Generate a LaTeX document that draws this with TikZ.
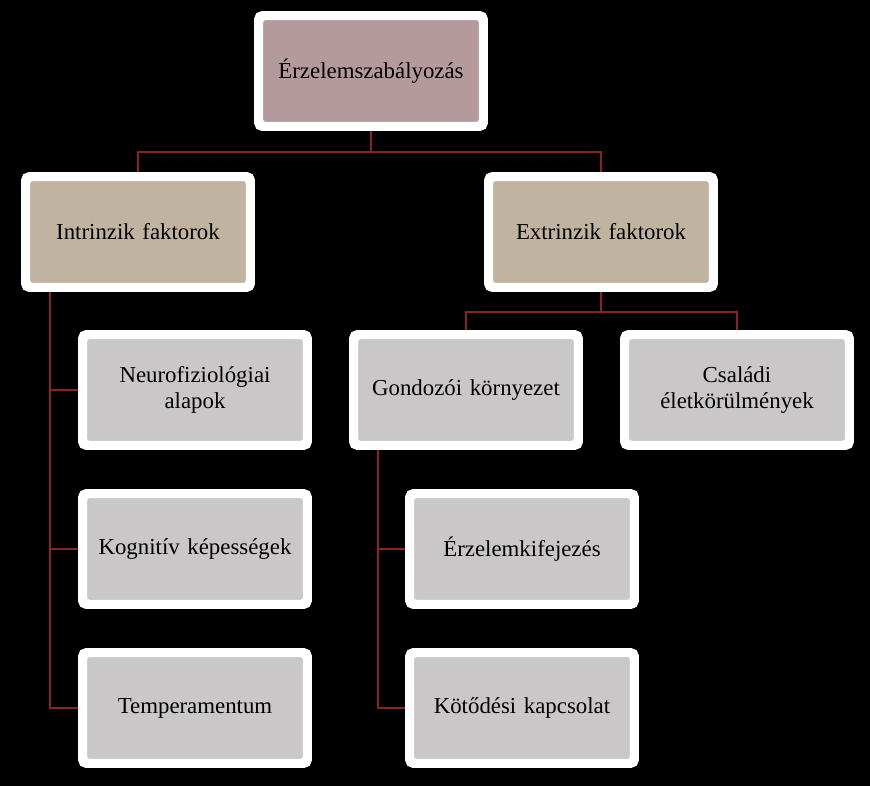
\documentclass[tikz,border=0pt]{standalone}
\usepackage{fontspec}
\setmainfont{Liberation Serif}
\definecolor{linkred}{HTML}{8B2323}
\definecolor{rootfill}{HTML}{B49A9C}
\definecolor{factfill}{HTML}{C0B4A0}
\definecolor{leaffill}{HTML}{C9C7C7}
\tikzset{
  card/.style={draw=white, line width=0.12cm, rounded corners=3pt,
    minimum width=4.44cm, minimum height=2.16cm, align=center,
    text width=4.2cm, font=\fontsize{13}{15}\selectfont},
  link/.style={draw=linkred, line width=1.6pt}
}
\begin{document}
\begin{tikzpicture}[x=0.02cm,y=-0.02cm]
\fill[black] (0,0) rectangle (870,786);

\node[card, fill=rootfill] (root) at (371,71) {Érzelemszabályozás};
\node[card, fill=factfill] (intr) at (138,232) {Intrinzik faktorok};
\node[card, fill=factfill] (extr) at (601,232) {Extrinzik faktorok};

\node[card, fill=leaffill] (neuro) at (195,390) {Neurofiziológiai alapok};
\node[card, fill=leaffill] (kogn) at (195,549) {Kognitív képességek};
\node[card, fill=leaffill] (temp) at (195,708) {Temperamentum};

\node[card, fill=leaffill] (gond) at (466,390) {Gondozói környezet};
\node[card, fill=leaffill] (csal) at (737,390) {Családi\\ életkörülmények};
\node[card, fill=leaffill] (erz) at (522,549) {Érzelemkifejezés};
\node[card, fill=leaffill] (kot) at (522,708) {Kötődési kapcsolat};

% tree links
\coordinate (rj) at (371,152);
\draw[link] (root.south) -- (rj) -| (intr.north);
\draw[link] (rj) -| (extr.north);

\coordinate (ej) at (601,312);
\draw[link] (extr.south) -- (ej) -| (gond.north);
\draw[link] (ej) -| (csal.north);

\coordinate (it) at (50,289);
\draw[link] (it) |- (neuro.west);
\draw[link] (it) |- (kogn.west);
\draw[link] (it) |- (temp.west);

\coordinate (gt) at (378,447);
\draw[link] (gt) |- (erz.west);
\draw[link] (gt) |- (kot.west);

% redraw cards over link ends
\foreach \n in {root,intr,extr,neuro,kogn,temp,gond,csal,erz,kot}
  \draw[white, line width=0.12cm, rounded corners=3pt] (\n.north west) rectangle (\n.south east);
\end{tikzpicture}
\end{document}
